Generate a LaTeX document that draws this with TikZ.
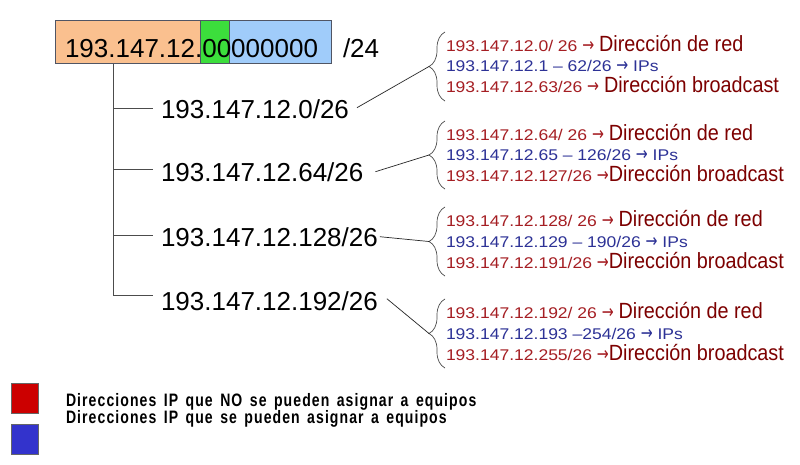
\documentclass[tikz,border=0pt]{standalone}
\usepackage{fontspec}
\setmainfont{Liberation Sans}
\newfontfamily\smallf{Liberation Sans}[FakeStretch=1.13]
\newfontfamily\bigf{Liberation Sans}[FakeStretch=0.9]
\newfontfamily\legf{Liberation Sans}[FakeStretch=0.78,LetterSpace=6,WordSpace=1.5]
\newfontfamily\arrf{DejaVu Sans}[FakeStretch=0.75]
\usetikzlibrary{decorations.pathreplacing,calc}
\definecolor{sred}{RGB}{165,30,35}
\definecolor{bred}{RGB}{125,0,0}
\definecolor{sblue}{RGB}{45,50,150}
\definecolor{boxor}{RGB}{250,192,143}
\definecolor{boxgr}{RGB}{60,222,60}
\definecolor{boxbl}{RGB}{160,204,250}
\definecolor{boxline}{RGB}{80,85,100}
\definecolor{legred}{RGB}{204,0,0}
\definecolor{legblue}{RGB}{51,51,204}
\newcommand\dirtxt[1]{{\bigf\fontsize{22}{24}\selectfont\color{bred}#1}}
\newcommand\rarr{{\arrf\fontsize{19}{20}\selectfont →}}
\begin{document}
\begin{tikzpicture}[x=1pt,y=-1pt,
  every node/.style={inner sep=0pt, outer sep=0pt},
  seg/.style={draw=boxline, line width=0.8pt, anchor=north west, minimum height=43pt},
  big/.style={font=\fontsize{26}{30}\selectfont, anchor=base west},
  tree/.style={draw=black!70, line width=0.9pt},
  link/.style={draw=black!85, line width=0.7pt},
  curly/.style={draw=black!70, line width=0.7pt, decorate, decoration={brace, amplitude=16pt}},
  info/.style={anchor=base west, font=\smallf\fontsize{15.5}{18}\selectfont},
  legbox/.style={draw=black!60, line width=0.6pt, anchor=north west, minimum width=27pt, minimum height=30pt},
  legtxt/.style={anchor=base west, font=\legf\bfseries\fontsize{18}{20}\selectfont}
]
\fill[white] (0,0) rectangle (800,464);
\useasboundingbox (0,0) rectangle (800,464);

% address box
\node[seg, fill=boxor, minimum width=145pt] (bor) at (55,20) {};
\node[seg, fill=boxgr, minimum width=29pt] (bgr) at (200,20) {};
\node[seg, fill=boxbl, minimum width=102pt] (bbl) at (229,20) {};
\node[big] (addr) at (65,57) {193.147.12.00000000};
\node[big] (mask) at (343,57) {/24};

% subnets
\node[big] (s1) at (161,118) {193.147.12.0/26};
\node[big] (s2) at (161,181) {193.147.12.64/26};
\node[big] (s3) at (161,246) {193.147.12.128/26};
\node[big] (s4) at (161,310) {193.147.12.192/26};

% tree
\coordinate (root) at (113,63.5);
\coordinate (b1) at (153,108);
\coordinate (b2) at (153,169);
\coordinate (b3) at (153,235);
\coordinate (b4) at (153,295);
\draw[tree] (root) -- (root |- b4) -- (b4);
\draw[tree] (root |- b1) -- (b1);
\draw[tree] (root |- b2) -- (b2);
\draw[tree] (root |- b3) -- (b3);

% braces
\draw[curly] (445,101) -- (445,32);
\draw[curly] (445,189) -- (445,121);
\draw[curly] (445,276) -- (445,207);
\draw[curly] (445,368) -- (445,299);
\coordinate (t1) at (429,66.5);
\coordinate (t2) at (429,155);
\coordinate (t3) at (429,241.5);
\coordinate (t4) at (429,333.5);

% connectors
\draw[link] ([xshift=8pt,yshift=1pt]s1.east) -- (t1);
\draw[link] ([xshift=12pt]s2.east) -- (t2);
\draw[link] ([xshift=2pt]s3.east) -- (t3);
\draw[link] ([xshift=9pt,yshift=2pt]s4.east) -- (t4);

% info block 1
\node[info] (r1a) at (446,51) {\color{sred}193.147.12.0/ 26 \rarr{} \dirtxt{Dirección de red}};
\node[info] (r1b) at (446,71.5) {\color{sblue}193.147.12.1 – 62/26 \rarr{} IPs};
\node[info] (r1c) at (446,92) {\color{sred}193.147.12.63/26 \rarr{} \dirtxt{Dirección broadcast}};
% info block 2
\node[info] (r2a) at (446,140) {\color{sred}193.147.12.64/ 26 \rarr{} \dirtxt{Dirección de red}};
\node[info] (r2b) at (446,160.5) {\color{sblue}193.147.12.65 – 126/26 \rarr{} IPs};
\node[info] (r2c) at (446,181) {\color{sred}193.147.12.127/26 \rarr\dirtxt{Dirección broadcast}};
% info block 3
\node[info] (r3a) at (446,226) {\color{sred}193.147.12.128/ 26 \rarr{} \dirtxt{Dirección de red}};
\node[info] (r3b) at (446,247) {\color{sblue}193.147.12.129 – 190/26 \rarr{} IPs};
\node[info] (r3c) at (446,268) {\color{sred}193.147.12.191/26 \rarr\dirtxt{Dirección broadcast}};
% info block 4
\node[info] (r4a) at (446,318) {\color{sred}193.147.12.192/ 26 \rarr{} \dirtxt{Dirección de red}};
\node[info] (r4b) at (446,339) {\color{sblue}193.147.12.193 –254/26 \rarr{} IPs};
\node[info] (r4c) at (446,360) {\color{sred}193.147.12.255/26 \rarr\dirtxt{Dirección broadcast}};

% legend
\node[legbox, fill=legred] (lr) at (11,383) {};
\node[legbox, fill=legblue] (lb) at (11,424) {};
\node[legtxt] (l1) at (66,406.5) {Direcciones IP que NO se pueden asignar a equipos};
\node[legtxt] (l2) at (66,423.5) {Direcciones IP que se pueden asignar a equipos};
\end{tikzpicture}
\end{document}
